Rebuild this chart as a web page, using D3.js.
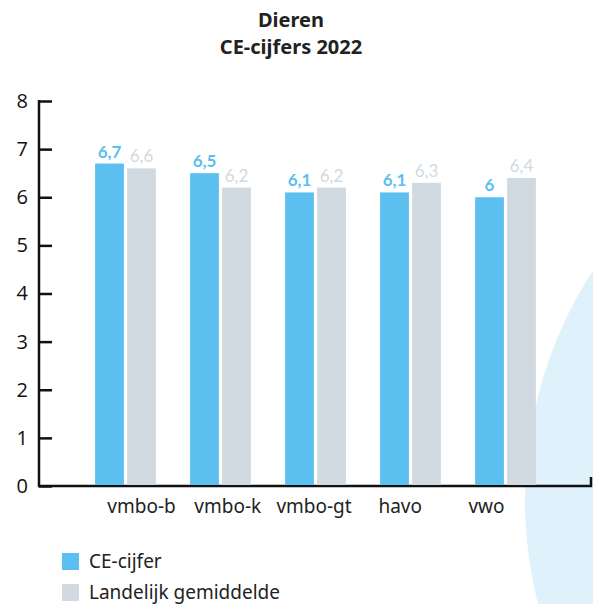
<!DOCTYPE html>
<html>
<head>
<meta charset="utf-8">
<script src="https://cdn.jsdelivr.net/npm/d3@7"></script>
<style>
  body { margin: 0; background: #fff; }
  svg { display: block; }
</style>
</head>
<body>
<svg id="chart"></svg>
<script>
const categories = ["vmbo-b", "vmbo-k", "vmbo-gt", "havo", "vwo"];
const seriesNames = ["CE-cijfer", "Landelijk gemiddelde"];
const ceValues = [6.7, 6.5, 6.1, 6.1, 6.0];
const landValues = [6.6, 6.2, 6.2, 6.3, 6.4];
const yTicks = [0, 1, 2, 3, 4, 5, 6, 7, 8];
const titleLines = ["Dieren", "CE-cijfers 2022"];

const colors = { "CE-cijfer": "#5bc0ef", "Landelijk gemiddelde": "#d2dae1" };

const width = 593, height = 604;

const svg = d3.select("#chart")
  .attr("width", width)
  .attr("height", height);

// light blue background circle, bottom right
svg.append("circle")
  .attr("cx", 947)
  .attr("cy", 500)
  .attr("r", 422)
  .attr("fill", "#dff1fa");

// title
svg.append("g")
  .selectAll("text")
  .data(titleLines)
  .join("text")
  .attr("x", 291)
  .attr("y", (d, i) => 27 + i * 27)
  .attr("text-anchor", "middle")
  .attr("font-family", "'Noto Sans', sans-serif")
  .attr("font-weight", "bold")
  .attr("font-size", 20)
  .attr("fill", "#222")
  .text(d => d);

const data = categories.map((c, i) => ({
  category: c,
  values: [
    { key: seriesNames[0], value: ceValues[i] },
    { key: seriesNames[1], value: landValues[i] }
  ]
}));

const y = d3.scaleLinear()
  .domain([0, 8])
  .range([486, 101]);

const x0 = d3.scaleBand()
  .domain(categories)
  .range([78, 553])
  .paddingInner(0.36)
  .paddingOuter(0.18);

const x1 = d3.scaleBand()
  .domain(seriesNames)
  .range([0, x0.bandwidth()])
  .paddingInner(0.1);

// category labels sit on their own point scale (offset from the bars in the original)
const xLabel = d3.scalePoint()
  .domain(categories)
  .range([141, 486]);

// x baseline with small end tick on the right
svg.append("path")
  .attr("d", `M38,${y(0)}H591V${y(0) - 9}`)
  .attr("fill", "none")
  .attr("stroke", "#111")
  .attr("stroke-width", 2.5);

// bars
const groups = svg.append("g")
  .selectAll("g")
  .data(data)
  .join("g")
  .attr("transform", d => `translate(${x0(d.category)},0)`);

groups.selectAll("rect")
  .data(d => d.values)
  .join("rect")
  .attr("x", d => x1(d.key))
  .attr("y", d => y(d.value))
  .attr("width", x1.bandwidth())
  .attr("height", d => y(0) - 1 - y(d.value))
  .attr("fill", d => colors[d.key]);

groups.selectAll("text")
  .data(d => d.values)
  .join("text")
  .attr("x", d => x1(d.key) + x1.bandwidth() / 2)
  .attr("y", d => y(d.value) - 6)
  .attr("text-anchor", "middle")
  .attr("font-family", "Lato, sans-serif")
  .attr("font-weight", d => d.key === seriesNames[0] ? "bold" : "normal")
  .attr("font-size", 17)
  .attr("fill", d => colors[d.key])
  .text(d => String(d.value).replace(".", ","));

// y axis
const yAxis = d3.axisLeft(y)
  .tickValues(yTicks)
  .tickSize(-13)
  .tickSizeOuter(0)
  .tickPadding(11)
  .tickFormat(d3.format("d"));

const yg = svg.append("g")
  .attr("transform", "translate(39,0)")
  .call(yAxis);

yg.select(".domain")
  .attr("stroke", "#111")
  .attr("stroke-width", 2.5)
  .attr("d", `M0,${y(8) - 1}V${y(0) + 1}`);
yg.selectAll(".tick line")
  .attr("stroke", "#111")
  .attr("stroke-width", 2.5);
yg.selectAll(".tick text")
  .attr("font-family", "'Open Sans', sans-serif")
  .attr("font-size", 20)
  .attr("fill", "#111");

// x labels
const xAxis = d3.axisBottom(xLabel)
  .tickSize(0)
  .tickPadding(0);

const xg = svg.append("g")
  .attr("transform", "translate(0,498)")
  .call(xAxis);
xg.select(".domain").remove();
xg.selectAll(".tick text")
  .attr("dy", "0.8em")
  .attr("font-family", "'Noto Sans', sans-serif")
  .attr("font-size", 19)
  .attr("fill", "#222");

// legend
const legend = svg.append("g")
  .attr("transform", "translate(62,553)");

const items = legend.selectAll("g")
  .data(seriesNames)
  .join("g")
  .attr("transform", (d, i) => `translate(0,${i * 31})`);

items.append("rect")
  .attr("width", 17)
  .attr("height", 17)
  .attr("fill", d => colors[d]);

items.append("text")
  .attr("x", 27)
  .attr("y", 14.5)
  .attr("font-family", "'Noto Sans', sans-serif")
  .attr("font-size", 19)
  .attr("fill", "#222")
  .text(d => d);
</script>
</body>
</html>
